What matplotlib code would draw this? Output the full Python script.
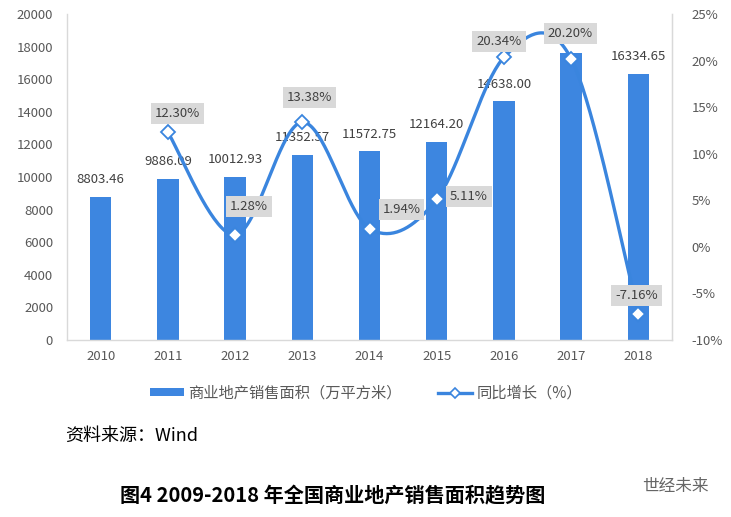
import numpy as np
import matplotlib
matplotlib.use('Agg')
import matplotlib.pyplot as plt
from matplotlib.patches import Patch
from matplotlib.lines import Line2D

plt.rcParams['font.family'] = ['Noto Sans CJK SC', 'DejaVu Sans']

# ---------------- data ----------------
years = ['2010', '2011', '2012', '2013', '2014', '2015', '2016', '2017', '2018']
area = [8803.46, 9886.09, 10012.93, 11352.57, 11572.75, 12164.20, 14638.00, 17594.00, 16334.65]
area_label_shown = [True, True, True, True, True, True, True, False, True]
growth_years = ['2011', '2012', '2013', '2014', '2015', '2016', '2017', '2018']
growth = [12.30, 1.28, 13.38, 1.94, 5.11, 20.34, 20.20, -7.16]
left_ticks = [0, 2000, 4000, 6000, 8000, 10000, 12000, 14000, 16000, 18000, 20000]
right_ticks = [-10, -5, 0, 5, 10, 15, 20, 25]
bar_name = '商业地产销售面积（万平方米）'
line_name = '同比增长（%）'
source_text = '资料来源：Wind'
title_text = '图4 2009-2018 年全国商业地产销售面积趋势图'
brand_text = '世经未来'

# label offsets for the growth labels (pixels, dx, dy up)
growth_label_offsets = [(10, 19), (14, 28), (7, 25), (32, 19), (32, 3), (-5, 16), (-1, 25), (-2, 18)]

BAR = '#3D86E0'
LINE = '#3A85DE'
GREY = '#595959'
DARK = '#404040'
SPINE = '#D9D9D9'

W, H = 731, 517
fig = plt.figure(figsize=(W / 100, H / 100), dpi=100)
ax = fig.add_axes([67 / W, 1 - 340 / H, (672 - 67) / W, (340 - 14) / H])

x = np.arange(len(years))
ax.bar(x, area, width=0.32, color=BAR, zorder=2)
ax.set_xlim(-0.5, len(years) - 0.5)
ax.set_ylim(left_ticks[0], left_ticks[-1])
ax.set_yticks(left_ticks)
ax.set_yticklabels([str(t) for t in left_ticks])
ax.set_xticks(x)
ax.set_xticklabels(years)
ax.tick_params(axis='both', length=0, labelcolor=GREY, labelsize=9.5)
ax.tick_params(axis='y', pad=10)
ax.tick_params(axis='x', pad=7)
for s in ['top']:
    ax.spines[s].set_visible(False)
for s in ['left', 'bottom', 'right']:
    ax.spines[s].set_color(SPINE)
    ax.spines[s].set_linewidth(1.0)

for xi, v, show in zip(x, area, area_label_shown):
    if show:
        ax.annotate(f'{v:.2f}', (xi, v), xytext=(0, 17), textcoords='offset pixels',
                    ha='center', va='center', fontsize=9.5, color=DARK, zorder=3)

ax2 = ax.twinx()
ax2.set_ylim(right_ticks[0], right_ticks[-1])
ax2.set_yticks(right_ticks)
ax2.set_yticklabels([f'{t}%' for t in right_ticks])
ax2.tick_params(axis='y', length=0, labelcolor=GREY, labelsize=9.5, pad=14)
for s in ['top', 'left', 'bottom']:
    ax2.spines[s].set_visible(False)
ax2.spines['right'].set_color(SPINE)

gx = np.array([years.index(y) for y in growth_years], dtype=float)
gy = np.array(growth, dtype=float)


def catmull_rom(px, py, n=40):
    P = np.column_stack([px, py])
    P = np.vstack([P[0], P, P[-1]])
    out = []
    for i in range(1, len(P) - 2):
        p0, p1, p2, p3 = P[i - 1], P[i], P[i + 1], P[i + 2]
        c1 = p1 + (p2 - p0) / 6.0
        c2 = p2 - (p3 - p1) / 6.0
        t = np.linspace(0, 1, n)[:, None]
        seg = ((1 - t) ** 3) * p1 + 3 * ((1 - t) ** 2) * t * c1 + 3 * (1 - t) * t ** 2 * c2 + t ** 3 * p2
        out.append(seg if i == 1 else seg[1:])
    out = np.vstack(out)
    return out[:, 0], out[:, 1]


sx, sy = catmull_rom(gx, gy)
ax2.plot(sx, sy, color=LINE, lw=2.4, solid_capstyle='round', zorder=3)
ax2.plot(gx, gy, linestyle='none', marker='D', markersize=7.5, markerfacecolor='white',
         markeredgecolor=LINE, markeredgewidth=1.3, zorder=4)

for xi, v, (dx, dy) in zip(gx, gy, growth_label_offsets):
    ax2.annotate(f'{v:.2f}%', (xi, v), xytext=(dx, dy), textcoords='offset pixels',
                 ha='center', va='center', fontsize=9.5, color=DARK, zorder=5,
                 bbox=dict(boxstyle='square,pad=0.3', facecolor='#D9D9D9', edgecolor='none'))

handles = [Patch(facecolor=BAR, edgecolor='none', label=bar_name),
           Line2D([], [], color=LINE, lw=2.4, marker='D', markersize=5, markerfacecolor='white',
                  markeredgecolor=LINE, markeredgewidth=1.2, label=line_name)]
fig.legend(handles=handles, loc='center', bbox_to_anchor=(366 / W, 1 - 393 / H), ncol=2,
           frameon=False, fontsize=11, handlelength=2.2, handleheight=0.42,
           handletextpad=0.3, columnspacing=2.4, labelcolor=GREY)

fig.text(65 / W, 1 - 436 / H, source_text, fontsize=13, ha='left', va='center', color='black')
fig.text(333 / W, 1 - 496 / H, title_text, fontsize=14.5, fontweight='bold', ha='center',
         va='center', color='black')
fig.text(642 / W, 1 - 487 / H, brand_text, fontsize=12, ha='left', va='center', color='#666666')

fig.savefig('out.png', dpi=100)
